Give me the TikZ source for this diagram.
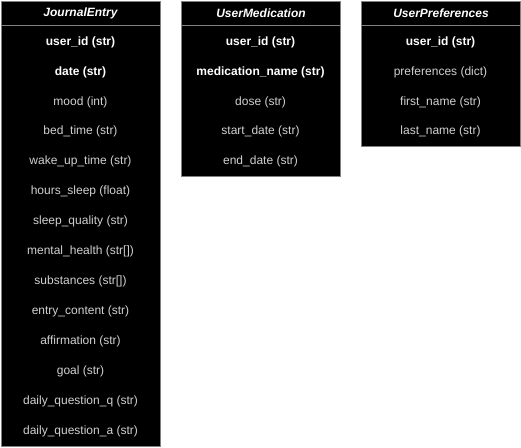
\documentclass[tikz,border=0pt]{standalone}
\usepackage{fontspec}
\setmainfont{Liberation Sans}
\begin{document}
\begin{tikzpicture}[x=0.75pt, y=-0.75pt]
    \tikzset{
      head/.style={draw=gray, line width=0.75pt, fill=black, text=white, font=\fontsize{9}{11}\selectfont\bfseries\itshape, minimum width=119.25pt, minimum height=18.4pt, inner sep=0pt, anchor=north west},
      body/.style={draw=gray, line width=0.75pt, fill=black, minimum width=119.25pt, inner sep=0pt, anchor=north west},
      key/.style={text=white, font=\fontsize{9}{11}\selectfont\bfseries},
      field/.style={text=white!82!black, font=\fontsize{9}{11}\selectfont}}
    \useasboundingbox (0,0) rectangle (521,447);

    % JournalEntry
    \draw (0.5,25) node (je body) [body, minimum height=315.4pt] {};
    \draw (0.5,0.5) node (je head) [head] {JournalEntry};
    \draw (80.5,42) node (je f0) [key] {user\_id (str)};
    \draw (80.5,72) node (je f1) [key] {date (str)};
    \foreach \txt [count=\i from 2] in {mood (int), bed\_time (str), wake\_up\_time (str), hours\_sleep (float), sleep\_quality (str), mental\_health (str[]), substances (str[]), entry\_content (str), affirmation (str), goal (str), daily\_question\_q (str), daily\_question\_a (str)}
      \draw (80.5,42+29.95*\i) node (je f\i) [field] {\txt};

    % UserMedication
    \draw (181,25) node (um body) [body, minimum height=113pt] {};
    \draw (181,0.5) node (um head) [head] {UserMedication};
    \draw (260.5,42) node (um f0) [key] {user\_id (str)};
    \draw (260.5,72) node (um f1) [key] {medication\_name (str)};
    \foreach \txt [count=\i from 2] in {dose (str), start\_date (str), end\_date (str)}
      \draw (260.5,42+29.95*\i) node (um f\i) [field] {\txt};

    % UserPreferences
    \draw (361,25) node (up body) [body, minimum height=90.4pt] {};
    \draw (361,0.5) node (up head) [head] {UserPreferences};
    \draw (440.5,42) node (up f0) [key] {user\_id (str)};
    \foreach \txt [count=\i from 1] in {preferences (dict), first\_name (str), last\_name (str)}
      \draw (440.5,42+29.95*\i) node (up f\i) [field] {\txt};
  \end{tikzpicture}
\end{document}
